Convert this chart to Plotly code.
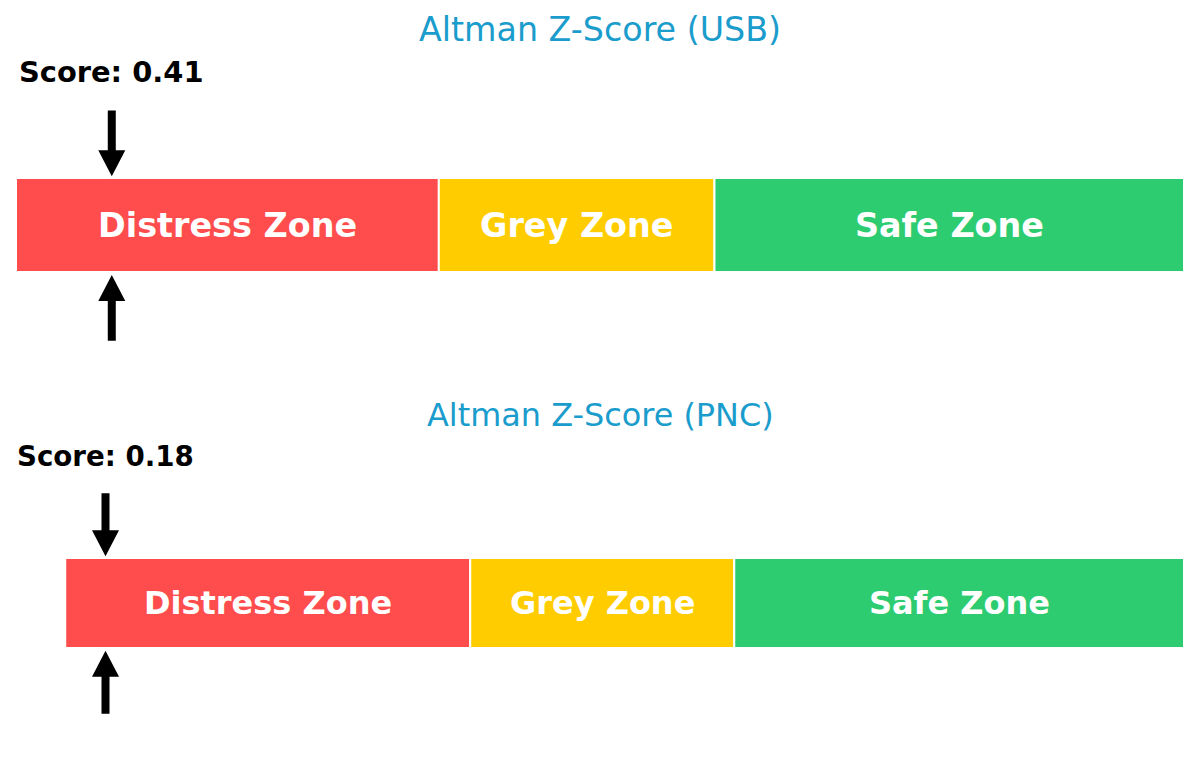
import plotly.graph_objects as go

companies = ["USB", "PNC"]
scores = [0.41, 0.18]
zone_names = ["Distress Zone", "Grey Zone", "Safe Zone"]
zone_edges = [0.0, 1.81, 2.99, 5.0]
zone_colors = ["#ff4d4d", "#ffcc00", "#2ecc71"]

W, H = 1200, 758
OFF = 8  # page body margin around the plot div
FW, FH = W - 2 * OFF, H - 2 * OFF
ML, MR = 16 - OFF, 16 - OFF
# pixel rows (page coords) of the two panels, and a size factor for the lower one
panel_px = [(56, 366), (441, 738)]
title_px = [29.5, 415]
scale = [1.0, 0.958]
y_lo, y_hi = -1.5, 1.8

fig = go.Figure()
layout_axes = {}

for i, (name, score) in enumerate(zip(companies, scores)):
    n = "" if i == 0 else str(i + 1)
    xa, ya = "x" + n, "y" + n
    x_lo = min(0, score - 0.4)
    x_hi = max(zone_edges[-1], score + 0.4)
    top, bot = panel_px[i]
    ppx = (FW - ML - MR) / (x_hi - x_lo)
    ppy = (bot - top) / (y_hi - y_lo)
    k = scale[i]

    starts = zone_edges[:-1]
    widths = [b - a for a, b in zip(zone_edges[:-1], zone_edges[1:])]
    fig.add_trace(go.Bar(
        y=[0] * len(widths), x=widths, base=starts, orientation="h", width=1,
        marker=dict(color=zone_colors, line=dict(color="white", width=2)),
        xaxis=xa, yaxis=ya, hoverinfo="skip", showlegend=False))

    for zn, a, b in zip(zone_names, zone_edges[:-1], zone_edges[1:]):
        fig.add_annotation(x=(a + b) / 2, y=0, xref=xa, yref=ya,
                           text="<b>%s</b>" % zn, showarrow=False,
                           font=dict(size=33.4 * k, color="white"))

    # arrows above and below the bar pointing at the score
    sw, hw, hl = 4 / ppx, 13.5 / ppx, 26 / ppy
    for tail, tip in [(1.22, 0.52), (-1.23, -0.53)]:
        d = 1 if tail > tip else -1
        neck = tip + d * hl
        xs = [score - sw, score + sw, score + sw, score + hw, score,
              score - hw, score - sw, score - sw]
        ys = [tail, tail, neck, neck, tip, neck, neck, tail]
        fig.add_trace(go.Scatter(
            x=xs, y=ys, mode="lines", fill="toself", fillcolor="black",
            line=dict(width=0, color="black"), xaxis=xa, yaxis=ya,
            hoverinfo="skip", showlegend=False))

    fig.add_annotation(x=score, y=1.63, xref=xa, yref=ya,
                       text="<b>Score: %.2f</b>" % score, showarrow=False,
                       font=dict(size=28.9 * k, color="black"))

    fig.add_annotation(x=0.5, y=1 - (title_px[i] - OFF) / FH, xref="paper", yref="paper",
                       text="Altman Z-Score (%s)" % name, showarrow=False,
                       yanchor="middle",
                       font=dict(size=33.3 * k, color="#1a9ccc"))

    layout_axes["xaxis" + n] = dict(range=[x_lo, x_hi], domain=[0, 1], visible=False,
                                    anchor=ya, fixedrange=True)
    layout_axes["yaxis" + n] = dict(range=[y_lo, y_hi], visible=False, anchor=xa,
                                    domain=[1 - (bot - OFF) / FH, 1 - (top - OFF) / FH],
                                    fixedrange=True)

fig.update_layout(
    width=FW, height=FH,
    margin=dict(l=ML, r=MR, t=0, b=0),
    paper_bgcolor="white", plot_bgcolor="white",
    font=dict(family="DejaVu Sans"),
    showlegend=False,
    **layout_axes,
)

fig.write_html("out.html")
